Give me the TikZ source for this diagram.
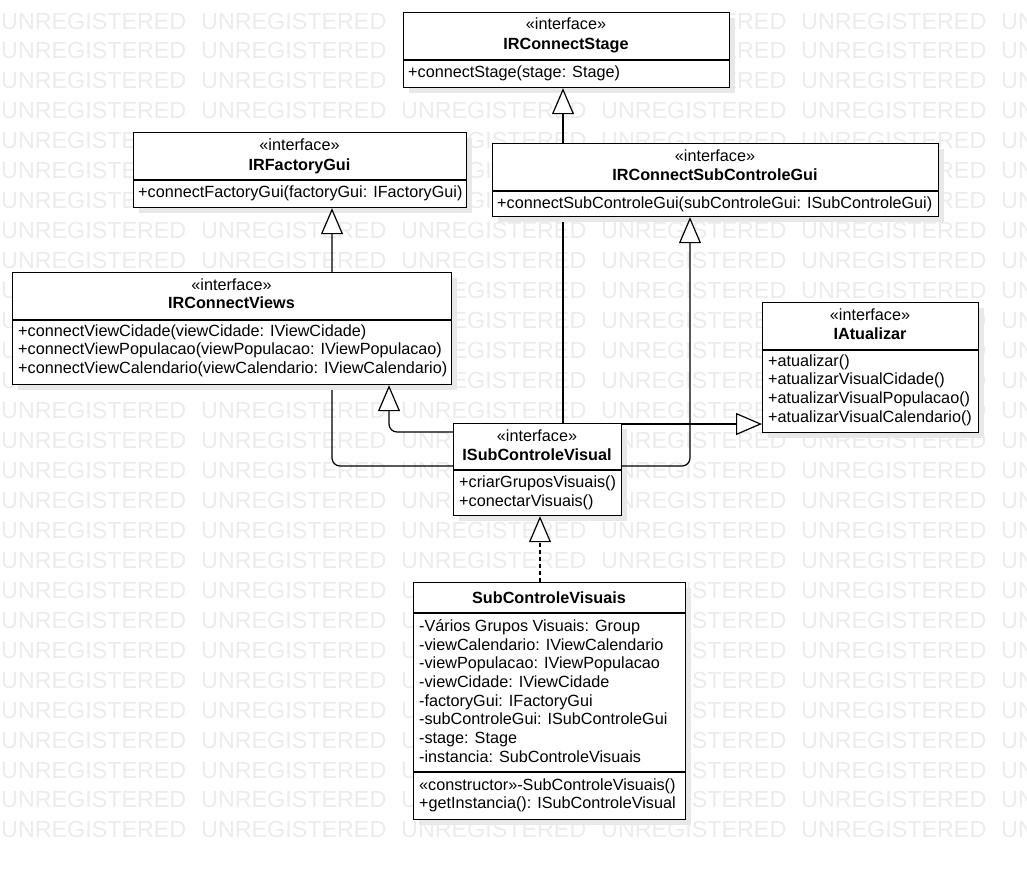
\documentclass[tikz,border=0pt]{standalone}
\usepackage{fontspec}
\setmainfont{Liberation Sans}
\usetikzlibrary{arrows.meta,shadows}
\definecolor{wmgray}{RGB}{236,236,236}
\definecolor{shade}{RGB}{232,232,232}
\begin{document}
\begin{tikzpicture}[x=1pt,y=-1pt,
  wm/.style={text=wmgray, font=\fontsize{23.3}{28}\selectfont, anchor=base west, inner sep=0},
  box/.style={draw, line width=1.2pt, fill=white, anchor=north west, inner sep=0,
    drop shadow={shadow xshift=5pt, shadow yshift=-5pt, fill=shade, opacity=1}},
  hd/.style={font=\fontsize{16.2}{19}\selectfont, anchor=base, inner sep=0},
  nm/.style={font=\fontsize{16.2}{19}\selectfont\bfseries, anchor=base, inner sep=0},
  row/.style={font=\fontsize{16.2}{19}\selectfont, anchor=base west, inner sep=0},
  sep/.style={line width=1.2pt},
  inh/.style={line width=1.2pt, rounded corners=8pt, -{Triangle[length=26pt, width=22pt, fill=white]}},
  real/.style={inh, dash pattern=on 4pt off 3pt}
]
\useasboundingbox (0,0) rectangle (1027,870);
\fill[white] (0,0) rectangle (1027,870);

% background watermark
\begin{scope}
  \clip (0,0) rectangle (1027,870);
  \foreach \r in {0,...,27} {
    \foreach \c in {0,...,5} {
      \node[wm] (wm-\r-\c) at ({1+200*\c},{29+29.96*\r}) {UNREGISTERED};
    }
  }
\end{scope}

% guide coordinates for connector routes
\coordinate (kx563) at (563,0);
\coordinate (kx690) at (690,0);
\coordinate (kx389) at (389,0);
\coordinate (kx332) at (332,0);
\coordinate (kx540) at (540,0);
\coordinate (ky466) at (0,466);
\coordinate (ky432) at (0,432);
\coordinate (ky424) at (0,424);

% class frames
\node[box, minimum width=326, minimum height=75] (stage) at (403,12) {};
\node[box, minimum width=333, minimum height=75] (factory) at (133,132) {};
\node[box, minimum width=446, minimum height=73] (subgui) at (492,143) {};
\node[box, minimum width=439, minimum height=112] (views) at (12,272) {};
\node[box, minimum width=216, minimum height=130] (atual) at (762,302) {};
\node[box, minimum width=168, minimum height=92] (vis) at (453,423) {};
\node[box, minimum width=272, minimum height=237] (sub) at (413,582) {};

% connectors that run behind other frames
\draw[inh] (vis.north -| kx563) -- (stage.south -| kx563);
\draw[inh] (vis.west |- ky466) -- (kx332 |- ky466) -- (factory.south -| kx332);

% frames drawn again on top of those connectors
\node[box, minimum width=446, minimum height=73] (subgui) at (492,143) {};
\node[box, minimum width=439, minimum height=112] (views) at (12,272) {};

\draw[inh] (vis.east |- ky466) -- (kx690 |- ky466) -- (subgui.south -| kx690);
\draw[inh] (vis.west |- ky432) -- (kx389 |- ky432) -- (views.south -| kx389);
\draw[inh] (vis.east |- ky424) -- (atual.west |- ky424);
\draw[real] (sub.north -| kx540) -- (vis.south -| kx540);

% IRConnectStage
\draw[sep] (403,60) -- (729,60);
\node[hd] (stage-st) at (566,29) {«interface»};
\node[nm] (stage-nm) at (566,49) {IRConnectStage};
\node[row] (stage-m1) at (408,77) {+connectStage(stage: Stage)};

% IRFactoryGui
\draw[sep] (133,180) -- (466,180);
\node[hd] (factory-st) at (299.5,150) {«interface»};
\node[nm] (factory-nm) at (299.5,170) {IRFactoryGui};
\node[row] (factory-m1) at (138,197) {+connectFactoryGui(factoryGui: IFactoryGui)};

% IRConnectSubControleGui
\draw[sep] (492,191) -- (938,191);
\node[hd] (subgui-st) at (715,161) {«interface»};
\node[nm] (subgui-nm) at (715,180) {IRConnectSubControleGui};
\node[row] (subgui-m1) at (497,208) {+connectSubControleGui(subControleGui: ISubControleGui)};

% IRConnectViews
\draw[sep] (12,320) -- (451,320);
\node[hd] (views-st) at (231.5,290) {«interface»};
\node[nm] (views-nm) at (231.5,308) {IRConnectViews};
\node[row] (views-m1) at (18,336) {+connectViewCidade(viewCidade: IViewCidade)};
\node[row] (views-m2) at (18,354.7) {+connectViewPopulacao(viewPopulacao: IViewPopulacao)};
\node[row] (views-m3) at (18,373.4) {+connectViewCalendario(viewCalendario: IViewCalendario)};

% IAtualizar
\draw[sep] (762,350) -- (978,350);
\node[hd] (atual-st) at (870,320) {«interface»};
\node[nm] (atual-nm) at (870,339) {IAtualizar};
\node[row] (atual-m1) at (768,366) {+atualizar()};
\node[row] (atual-m2) at (768,384.7) {+atualizarVisualCidade()};
\node[row] (atual-m3) at (768,403.4) {+atualizarVisualPopulacao()};
\node[row] (atual-m4) at (768,422.1) {+atualizarVisualCalendario()};

% ISubControleVisual
\draw[sep] (453,470) -- (621,470);
\node[hd] (vis-st) at (537,441) {«interface»};
\node[nm] (vis-nm) at (537,460) {ISubControleVisual};
\node[row] (vis-m1) at (459,487.5) {+criarGruposVisuais()};
\node[row] (vis-m2) at (459,506) {+conectarVisuais()};

% SubControleVisuais
\draw[sep] (413,613) -- (685,613);
\draw[sep] (413,772) -- (685,772);
\node[nm] (sub-nm) at (549,603.5) {SubControleVisuais};
\node[row] (sub-a1) at (419,631.5) {-Vários Grupos Visuais: Group};
\node[row] (sub-a2) at (419,650.15) {-viewCalendario: IViewCalendario};
\node[row] (sub-a3) at (419,668.8) {-viewPopulacao: IViewPopulacao};
\node[row] (sub-a4) at (419,687.45) {-viewCidade: IViewCidade};
\node[row] (sub-a5) at (419,706.1) {-factoryGui: IFactoryGui};
\node[row] (sub-a6) at (419,724.75) {-subControleGui: ISubControleGui};
\node[row] (sub-a7) at (419,743.4) {-stage: Stage};
\node[row] (sub-a8) at (419,762.05) {-instancia: SubControleVisuais};
\node[row] (sub-m1) at (419,790) {«constructor»-SubControleVisuais()};
\node[row] (sub-m2) at (419,808.7) {+getInstancia(): ISubControleVisual};
\end{tikzpicture}
\end{document}
